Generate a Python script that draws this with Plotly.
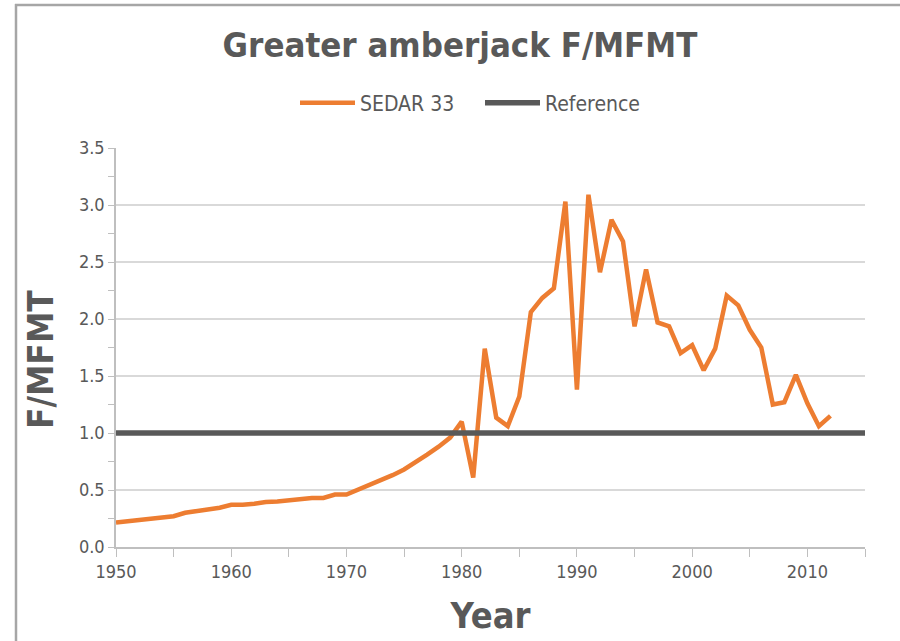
import plotly.graph_objects as go

years = list(range(1950, 2013))
sedar33 = [0.215, 0.225, 0.235, 0.245, 0.255, 0.27, 0.30, 0.315, 0.33, 0.345,
           0.37, 0.37, 0.38, 0.395, 0.40, 0.41, 0.42, 0.43, 0.43, 0.46,
           0.46, 0.50, 0.54, 0.58, 0.63, 0.68, 0.74, 0.81, 0.88, 0.96,
           1.10, 0.61, 1.74, 1.135, 1.06, 1.32, 2.06, 2.185, 2.27, 3.03,
           1.38, 3.09, 2.41, 2.87, 2.68, 1.935, 2.435, 1.97, 1.935, 1.70,
           1.77, 1.55, 1.74, 2.205, 2.12, 1.905, 1.75, 1.25, 1.27, 1.51,
           1.26, 1.06, 1.15]
ref_years = [1950, 2015]
ref_values = [1.0, 1.0]

FONT = "Liberation Sans Narrow, Arial Narrow, DejaVu Sans Condensed, sans-serif"
GRAY = "#595959"

W, H = 900, 641
L, R, T, B = 116, 35, 148, 94
pw, ph = W - L - R, H - T - B


def px(x):
    return (x - L) / pw


def py(y):
    return (H - B - y) / ph


fig = go.Figure()
fig.add_trace(go.Scatter(x=years, y=sedar33, mode="lines", name="SEDAR 33",
                         line=dict(color="#ED7D31", width=4.5)))
fig.add_trace(go.Scatter(x=ref_years, y=ref_values, mode="lines", name="Reference",
                         line=dict(color=GRAY, width=5.5)))

fig.update_layout(
    width=W, height=H,
    margin=dict(l=L, r=R, t=T, b=B),
    paper_bgcolor="white", plot_bgcolor="white",
    font=dict(family=FONT, color=GRAY, size=18),
    title=dict(text="<b>Greater amberjack F/MFMT</b>", x=460 / W, xanchor="center",
               y=1 - 45 / H, yanchor="middle",
               font=dict(family=FONT, size=34.5, color=GRAY)),
    legend=dict(orientation="h", xref="container", x=295 / W, xanchor="left",
                yref="container", y=1 - 103 / H, yanchor="middle",
                font=dict(size=21, color=GRAY), itemwidth=55,
                entrywidth=115, bgcolor="rgba(0,0,0,0)"),
    showlegend=True,
    xaxis=dict(range=[1950, 2015], tickmode="array",
               tickvals=[1950, 1960, 1970, 1980, 1990, 2000, 2010],
               ticks="outside", ticklen=8, tickcolor="#bfbfbf",
               minor=dict(dtick=5, tick0=1950, ticks="outside", ticklen=8,
                          tickcolor="#bfbfbf", showgrid=False),
               showline=True, linecolor="#bfbfbf", linewidth=1.5,
               showgrid=False, zeroline=False,
               tickfont=dict(size=18, color=GRAY),
               title=dict(text="<b>Year</b>", font=dict(size=36, color=GRAY), standoff=21)),
    yaxis=dict(range=[0, 3.5], dtick=0.5, tickformat=".1f",
               ticks="outside", ticklen=6, tickcolor="#bfbfbf",
               minor=dict(dtick=0.25, ticks="outside", ticklen=6,
                          tickcolor="#bfbfbf", showgrid=False),
               showline=True, linecolor="#bfbfbf", linewidth=1.5,
               showgrid=True, gridcolor="#d9d9d9", gridwidth=1.5, zeroline=False,
               tickfont=dict(size=18, color=GRAY)),
    annotations=[
        dict(text="<b>F/MFMT</b>", textangle=-90, xref="paper", yref="paper",
             x=px(41), y=py(360), xanchor="center", yanchor="middle",
             showarrow=False, font=dict(size=35, color=GRAY)),
    ],
    shapes=[
        dict(type="line", xref="paper", yref="paper", x0=px(16), x1=px(16),
             y0=py(4), y1=py(H + 20), line=dict(color="#a6a6a6", width=2.5)),
        dict(type="line", xref="paper", yref="paper", x0=px(15), x1=px(W + 20),
             y0=py(5), y1=py(5), line=dict(color="#a6a6a6", width=2.5)),
    ],
)

fig.write_html("out.html", config={"displayModeBar": False},
               post_script="document.body.style.margin='0';")
